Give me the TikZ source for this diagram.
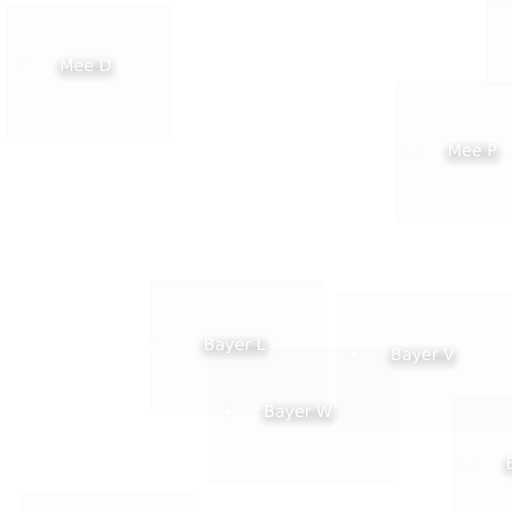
\documentclass[tikz,border=0pt]{standalone}
\usepackage{fontspec}
\newfontfamily\mapfont{DejaVu Sans}
\usetikzlibrary{positioning,shadows.blur}
\begin{document}
\begin{tikzpicture}[x=1bp,y=-1bp,
  tile/.style={fill=black,fill opacity=0.008,draw=black,draw opacity=0.008,line width=0.6bp},
  site/.style={circle,fill=white,inner sep=0,minimum size=7bp,
    blur shadow={shadow blur radius=3bp,shadow opacity=3,shadow xshift=0bp,shadow yshift=0bp}},
  lbl/.style={text=white,font=\mapfont\fontsize{16.3}{16}\selectfont,inner sep=1bp,
    text height=11.7bp,text depth=0pt,rounded corners=6bp,
    blur shadow={shadow blur radius=7bp,shadow opacity=14,shadow xshift=0bp,shadow yshift=-3bp,
      shadow blur steps=10}}]
  \useasboundingbox (0,0) rectangle (512,512);
  % tiles
  \foreach \xa/\ya/\xb/\yb in {7/3/172/137, 395/82/512/223, 487/0/512/85,
      151/280/325/413, 337/291/512/430, 210/348/393/483,
      454/398/512/512, 22/492/197/512}
    \draw[tile] (\xa,\ya) rectangle (\xb,\yb);
  % sites and names
  \foreach \name/\x/\y/\gap/\t in {meeD/25/66/30/Mee D, meeP/412/151/31/Mee P,
      bayerL/152/345/47/Bayer L, bayerV/354/355/32/Bayer V,
      bayerW/228/412/31/Bayer W, bayerE/468/464/33/B}
  {
    \node[site] (\name) at (\x,\y) {};
    \node[lbl,right=\gap bp of \name.east] (\name-t) {\t};
  }
\end{tikzpicture}
\end{document}
